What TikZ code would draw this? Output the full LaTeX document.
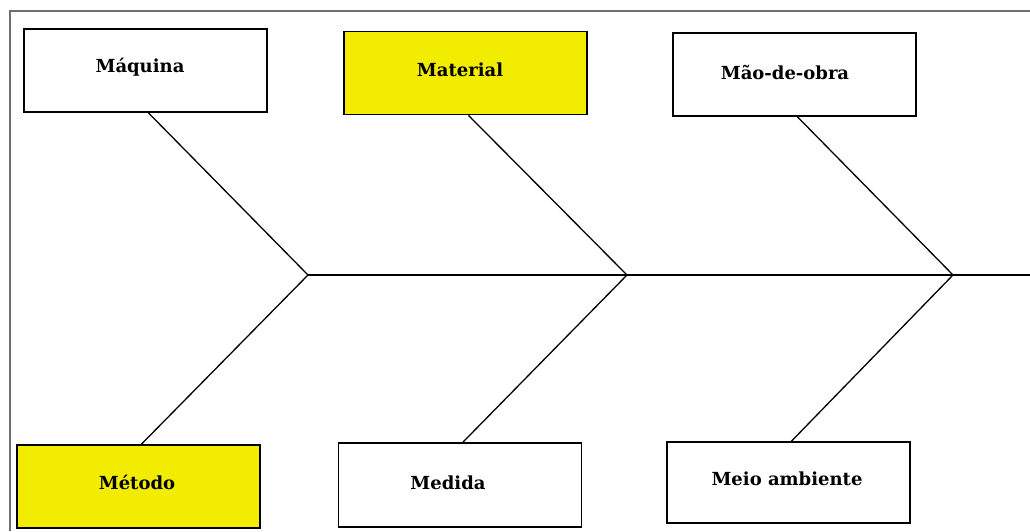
\documentclass[tikz,border=0pt]{standalone}
\usepackage{fontspec}
\setmainfont{DejaVu Serif}
\definecolor{boxyellow}{RGB}{242,236,0}
\definecolor{framegray}{RGB}{110,110,110}
\newcommand{\placetext}[3]{\hbox{\kern#1\relax\raisebox{#2}[\height][\depth]{#3}\kern-#1\relax}}
\begin{document}
\begin{tikzpicture}[x=1pt,y=-1pt,
  causebox/.style={draw=black,line width=1.8pt,rectangle,minimum width=243pt,minimum height=83pt,inner sep=0pt,
    font=\fontsize{18}{21}\selectfont\bfseries,fill=white},
  yellowbox/.style={causebox,fill=boxyellow},
  bone/.style={draw=black,line width=1.3pt},
  frame/.style={draw=framegray,line width=1.6pt}]
\useasboundingbox (0,0) rectangle (1030,531);
\fill[white] (0,0) rectangle (1030,531);
% frame
\coordinate (f1) at (10,531);
\coordinate (f2) at (10,11);
\coordinate (f3) at (1030,11);
\draw[frame] (f1) -- (f2) -- (f3);
% boxes
\node[causebox]  (maq) at (145.5,70.5) {\placetext{-5.5pt}{3pt}{Máquina}};
\node[yellowbox] (mat) at (465.5,73) {\placetext{-5.5pt}{3pt}{Material}};
\node[causebox]  (mao) at (794.5,74.5) {\placetext{-9.5pt}{2pt}{Mão-de-obra}};
\node[yellowbox] (met) at (138.5,486.5) {\placetext{-1.5pt}{4pt}{Método}};
\node[causebox,minimum height=84pt]  (med) at (460,485) {\placetext{-12pt}{2pt}{Medida}};
\node[causebox,minimum height=81pt]  (mei) at (788.5,482.5) {\placetext{-1.5pt}{4pt}{Meio ambiente}};
% spine
\coordinate (j1) at (308,275);
\coordinate (j2) at (627,275);
\coordinate (j3) at (953,275);
\coordinate (head) at (1030,275);
\draw[bone] (j1) -- (j2) -- (j3) -- (head);
% bones
\draw[bone] ([xshift=3pt]maq.south) -- (j1);
\draw[bone] ([xshift=3pt]met.north) -- (j1);
\draw[bone] ([xshift=3pt]mat.south) -- (j2);
\draw[bone] ([xshift=3pt]med.north) -- (j2);
\draw[bone] ([xshift=3pt]mao.south) -- (j3);
\draw[bone] ([xshift=3pt]mei.north) -- (j3);
\end{tikzpicture}
\end{document}
